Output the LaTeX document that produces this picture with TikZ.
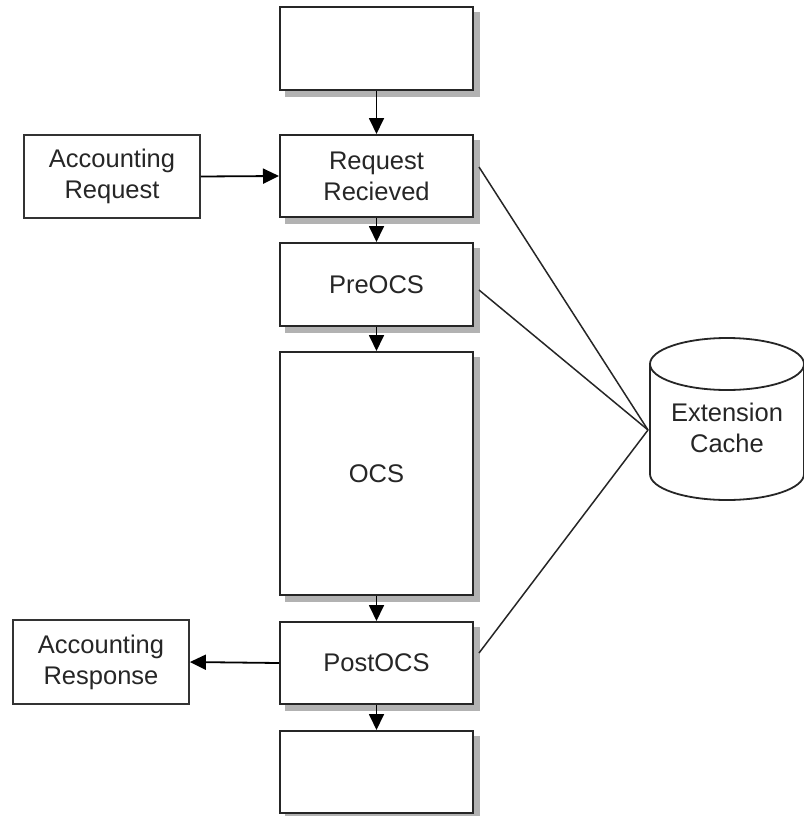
\documentclass[tikz,border=0pt]{standalone}
\usepackage{fontspec}
\setmainfont{Liberation Sans}
\usetikzlibrary{arrows.meta,calc,backgrounds}
\begin{document}
\begin{tikzpicture}[x=1pt,y=-1pt,
  every node/.style={font=\fontsize{25.5}{31}\selectfont, text=black!85},
  stage/.style={draw=black!85, line width=2pt, fill=white, align=center,
    minimum width=193pt, inner sep=0pt},
  side/.style={draw=black!80, line width=1.8pt, fill=white, align=center,
    minimum width=176pt, inner sep=0pt},
  shade/.style={fill=black!30},
  flow/.style={draw=black, line width=1.8pt, -{Triangle[length=16pt,width=15pt]}},
  link/.style={draw=black!85, line width=1.5pt}]
\useasboundingbox (0,0) rectangle (803,816);

% main processing column
\node[stage, minimum height=83pt] (top)  at (376.5,48.5) {};
\node[stage, minimum height=82pt] (rr)   at (376.5,176)  {Request\\Recieved};
\node[stage, minimum height=83pt] (pre)  at (376.5,284.5) {PreOCS};
\node[stage, minimum height=243pt] (ocs) at (376.5,473.5) {OCS};
\node[stage, minimum height=82pt] (post) at (376.5,663)  {PostOCS};
\node[stage, minimum height=82pt] (bot)  at (376.5,772)  {};

% drop shadows behind the column
\begin{scope}[on background layer]
  \foreach \n in {top,rr,pre,ocs,post,bot}
    \fill[shade] ($(\n.north west)+(6,6)$) rectangle ($(\n.south east)+(6,6)$);
\end{scope}

% side boxes
\node[side, minimum height=83pt] (areq)  at (112,176.5) {Accounting\\Request};
\node[side, minimum height=84pt] (aresp) at (101,662)   {Accounting\\Response};

% extension cache (cylinder)
\draw[line width=1.8pt, draw=black!85, fill=white]
  (650,364) -- (650,474) arc[start angle=180, end angle=360, x radius=77pt, y radius=26pt]
  -- (804,364);
\draw[line width=1.8pt, draw=black!85, fill=white]
  (727,364) ellipse [x radius=77pt, y radius=26pt];
\node (cache) at (727,428) [align=center] {Extension\\Cache};
\coordinate (cachein) at (648,430);

% flow arrows
\draw[flow] (top.south) -- (rr.north);
\draw[flow] (rr.south) -- (pre.north);
\draw[flow] (pre.south) -- (ocs.north);
\draw[flow] (ocs.south) -- (post.north);
\draw[flow] (post.south) -- (bot.north);
\draw[flow] (areq.east) -- (rr.west);
\draw[flow] (post.west) -- (aresp.east);

% cache links
\draw[link] ($(rr.east)+(5,-9)$) -- (cachein);
\draw[link] ($(pre.east)+(5,5.5)$) -- (cachein);
\draw[link] ($(post.east)+(5,-10)$) -- (cachein);
\end{tikzpicture}
\end{document}
